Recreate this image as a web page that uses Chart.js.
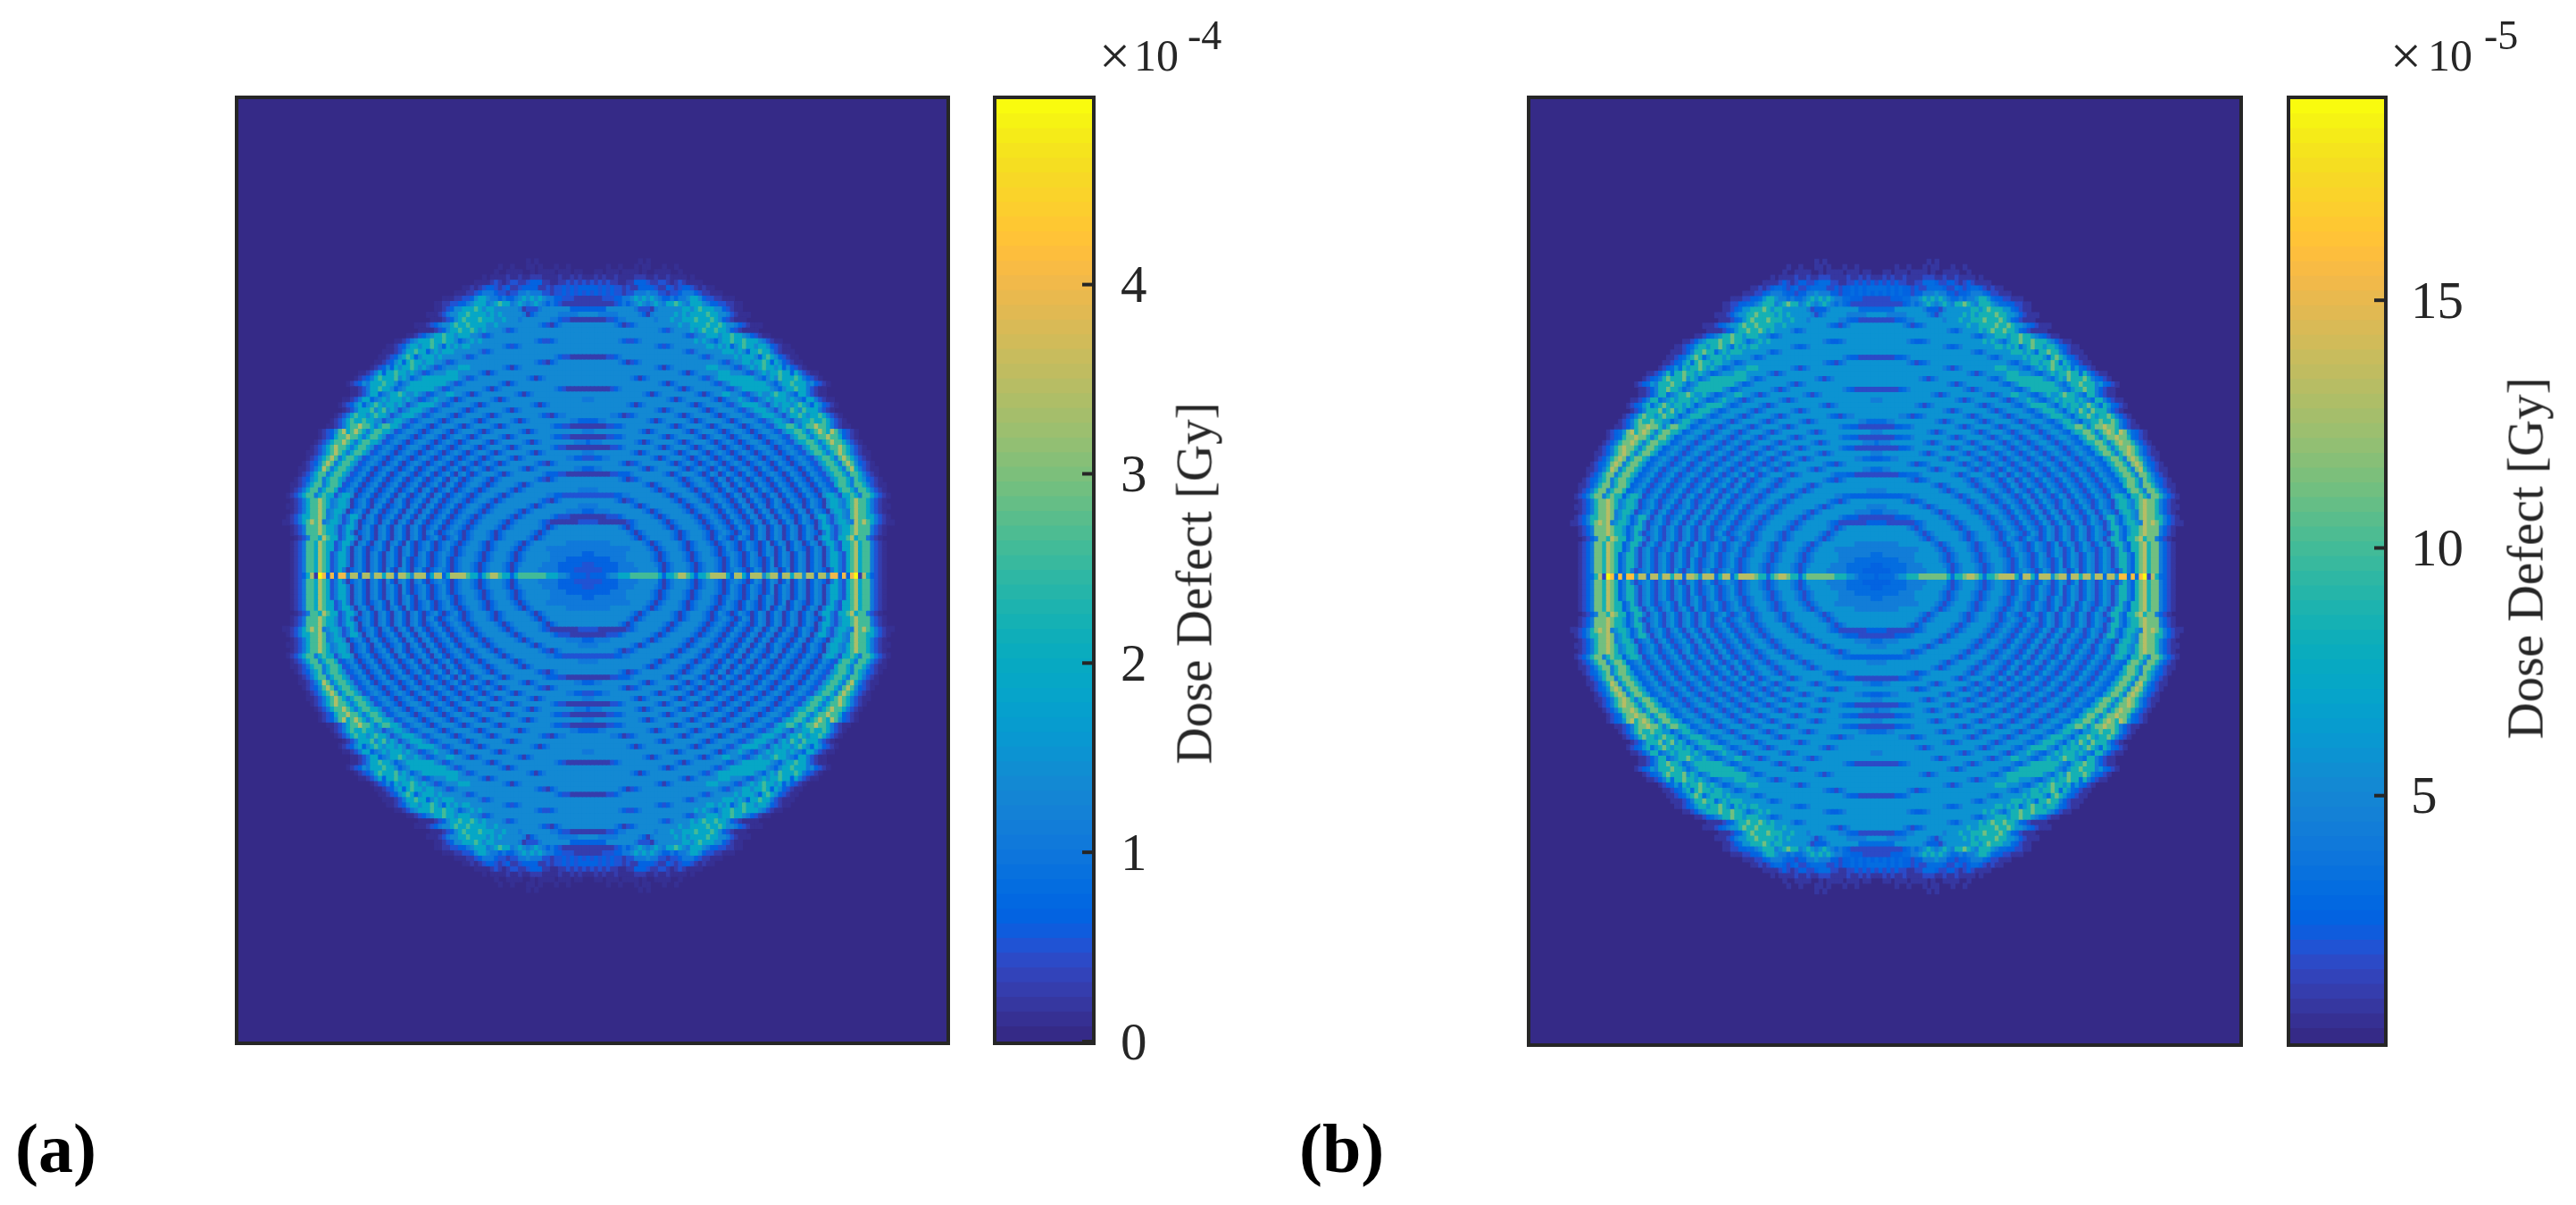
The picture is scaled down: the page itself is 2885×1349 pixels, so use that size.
<!DOCTYPE html>
<html>
<head>
<meta charset="utf-8">
<script src="https://cdn.jsdelivr.net/npm/chart.js@4/dist/chart.umd.min.js"></script>
<style>
	html, body { margin: 0; padding: 0; background: #fff; width: 2885px; height: 1349px; overflow: hidden; }
	canvas { position: absolute; display: block; }
	.map { border: 4px solid #262626; background: #352A87; }
	.txt { position: absolute; font-family: 'Liberation Serif', serif; color: #262626; line-height: 1; white-space: nowrap; }
	.rot { transform: translate(-50%, -50%) rotate(-90deg); font-size: 57px; }
	.tag { font-size: 78px; font-weight: bold; color: #000; }
</style>
</head>
<body>
<canvas id="mapA" class="map" style="left:263px;top:107px;box-sizing:content-box"></canvas>
<canvas id="barA" style="left:1110px;top:71px"></canvas>
<canvas id="mapB" class="map" style="left:1710px;top:107px;box-sizing:content-box"></canvas>
<canvas id="barB" style="left:2559px;top:71px"></canvas>

<div class="txt" style="left:1231px;top:31px;font-size:62px">×</div>
<div class="txt" style="left:1270px;top:37px;font-size:50px">10</div>
<div class="txt" style="left:1330px;top:17px;font-size:46px">-4</div>
<div class="txt rot" style="left:1337px;top:653px">Dose Defect [Gy]</div>
<div class="txt tag" style="left:17px;top:1247px">(a)</div>

<div class="txt" style="left:2677px;top:31px;font-size:62px">×</div>
<div class="txt" style="left:2719px;top:37px;font-size:50px">10</div>
<div class="txt" style="left:2782px;top:17px;font-size:46px">-5</div>
<div class="txt rot" style="left:2828px;top:625px">Dose Defect [Gy]</div>
<div class="txt tag" style="left:1455px;top:1247px">(b)</div>

<script>
// one string per image row above the centre row, each char a level code, from centre col outwards
const doseRows = [
	"34444 5667 77 8888888 7 4 77 8998 7 4 778 9999 7 4 99 7 4 999 6 8 99 4 99 7 99 6 99 4 99 6 aa 4 a 4 a b 2 9 7 4 3 2 1",
	"3333444455555666664 2 4566654 2 456654 2 45654 2 465 2 465 2 46 2 465 2 4654 2 575 3 7897885321",
	"33444444 5555 66666 54 2 4566654 2 456654 2 4654 2 4654 2 46 2 465 2 465 2 465 2 5775 3 7897885321",
	"444444 5555 666666 54 2 4566654 2 4566654 2 4654 2 4654 2 46 2 465 2 465 2 465 2 5775 3 7897885321",
	"4455 555555 666666 54 2 4566654 2 456654 2 45654 2 465 2 465 2 465 2 465 2 465 2 5775 3 7897885321",
	"55555 555555 6666 54 2 4566654 2 4566654 2 4654 2 4654 2 465 2 46 2 4654 2 465 2 575 3 77897885321",
	"555555 6666666 654 2 45666654 2 456654 2 45654 2 4654 2 46 2 465 2 465 2 465 2 5775 3 77897885321",
	"66666666666 54 2 456666654 2 4566654 2 4654 2 4654 2 465 2 465 2 465 2 465 2 5775 3 77897885321",
	"6666666666 54 2 4566666654 2 4566654 2 45654 2 465 2 465 2 465 2 465 2 4654 2 575 3 677898885321",
	"66666666 54 2 4566666654 2 45666654 2 45654 2 4654 2 465 2 465 2 465 2 465 2 5775 3 677898885321",
	"333 2222222 3456666654 2 45666654 2 45654 2 4654 2 465 2 465 2 465 2 4654 2 575 3 6776 5 9898753211",
	"22222 333 45 66666654 2 456666654 2 45654 2 4654 2 465 2 465 2 4654 2 465 2 5775 3 676 5 8988775321",
	"4455 5566 6666 6654 2 456666654 2 456654 2 4654 2 465 2 465 2 4654 2 465 2 4654 2 6776 5 898875321",
	"55566666 66654 2 45666666654 2 456654 2 4654 2 465 2 465 2 4654 2 465 2 4654 2 6776 5 78988753211",
	"6666666 54 2 3456666666654 2 456654 2 45654 2 465 2 4654 2 465 2 4654 2 4654 2 6776 5 7898875321",
	"3333333 44 556666666654 2 4566654 2 45654 2 465 2 4654 2 465 2 4654 2 4654 2 6776 3 7787 5 8875321",
	"555 66666666666 6654 2 45666654 2 45654 2 4654 2 465 2 4654 2 4654 2 4654 2 4654 3 7887 5 8875321",
	"66666666666666 54 2 45666654 2 456654 2 465 2 4654 2 4654 2 4654 2 4654 2 4654 3 7887 5 88753211",
	"66666666 54 2 3456666666654 2 456654 2 465 2 4654 2 4654 2 4654 2 4654 2 4654 3 67887 5 8764321",
	"222222 33 44 45666666654 2 4566654 2 465 2 4654 2 4654 2 45654 2 4654 2 4654 3 67887 5 8875321",
	"44 55 66666666 654 2 456666654 2 45654 2 4654 2 45654 2 4654 2 45654 2 4654 3 67887 5 89753211",
	"66666666 54 2 34566666654 2 45654 2 45654 2 45654 2 45654 2 4654 2 45654 3 67887 5 89864321",
	"3344 5566 6666666 654 2 4566654 2 45654 2 45654 2 45654 2 45654 2 45654 3 67887 5 89875321",
	"5566666666 654 2 456666654 2 456654 2 45654 2 45654 2 45654 2 45654 3 67887 5 7898753211",
	"222222 33 45666666654 2 4566654 2 456654 2 45654 2 456654 2 45654 3 67887 5 7889875321",
	"4555 6666666 654 2 456666654 2 4566654 2 45654 2 456654 2 45654 3 677887 5 7898875321",
	"222223 34 456666666654 2 45666654 2 456654 2 456654 2 456654 3 67887 5 78898874321",
	"55 6666666666 654 2 4566666654 2 4566654 2 456654 2 456654 3 677887 5 789879864321",
	"222223 34 45666666666654 2 45666654 2 4566654 2 456654 3 677887 5 788988753211",
	"444 55 6666 666666 54 2 456666654 2 45666654 2 4566654 3 567765 3 6677877875321",
	"666666 554 2 34566666666654 2 45666654 2 4566654 3 5677765 3 67787677875321",
	"6666666666666666 654 2 4566666654 2 45666654 3 5677765 3 67687687775321",
	"6666666666 54 2 45666666666654 2 45666654 3 56777765 3 6767767876 4 764321",
	"5566666666666666666 654 2 4566666654 2 45667654 3 56767776765 4 7753211",
	"6666666666666 654 2 456666666654 2 4566776654 3 56766787765 4 7753211",
	"222222 345 666666666666 654 2 45666666654 3 56777777765 4 67787753211",
	"66666666666666666 654 2 456666666654 3 5677777777765 4 6778777 5 64321",
	"6666666666 654 2 4566666666666654 3 5677777777765 4 676877787 5 4321",
	"6666666666666666666666 654 2 456666677766654 3 567677877 4 753211",
	"6666666666666666 654 2 456666666677766654 3 5676787767 4 64321",
	"6666666 654 2 345666666666666666666654 3 5667767787 4 7643211",
	"22222 33 45 666666666666666666 654 3 566666767776 4 787643211",
	"66666666666666666666666 654 3 5666666777676 4 77877532111",
	"6666666666666666 654 3 4566666666776767 4 67877677643211",
	"6666666 654 3 345666666666666676765 4 6778778777653211",
	"66666666666666666666666 654 3 5667776778776543211",
	"66666666666666666 654 3 5666676787787764321111",
	"666666 654 2 345666666666676677778778766543 2111",
	"22222 33 4 556666666566676677787778764321 11",
	"6665555566666 542 56666 676767 7778776 6532111",
	"4444 4 6666666 5 33 3 2 5666666 77678777 6643211",
	"2222222 345 4 5676 5676 5 77876 5 777654433 2211",
	"22223 33 44 55 6767676 5 44 5 4 55 6776 4 33 22 111",
	"4343 4 3 4 3 3 2 3 3 555 6 55 33 2 33 4 555 4 3 22 111",
	"44434 3 4 3 3 2 3 2 2 4444 3 22 4 3 2 3 44 3 2 1 2 11",
	"2323 2 3 2 2 1 1 2 2 444 3 22 33 2 1 2 3 2 1111",
	"112 1 2 1 1 2 1111 222 1 1 2 1 1 2 1111 0 1",
	"0011 0 111 0 1111 0 1 0 0 1111 0 0 1",
	"00000 1 0 0 1 000 1 0 11 000 1 0 0 1",
	"0000000000000 1 0 1"
];
const levelCodes = "0123456789ab";
const doseLevelsA = [0, 0.15, 0.28, 0.48, 0.66, 1.03, 1.34, 1.9, 2.6, 3.4, 4.03, 4.95];
const doseLevelsB = [0, 0.6, 1.5, 2.4, 3.0, 4.3, 5.8, 8.5, 11.2, 13.4, 15.8, 19.0];
const colorTicksA = [0, 1, 2, 3, 4];
const colorTicksB = [5, 10, 15];
const colorMaxA = 4.98;
const colorMaxB = 19.06;

const gridSize = 177;
const gridLabels = Array.from({ length: gridSize }, (_, i) => i);

const parula = [
	[.2081,.1663,.5292],[.2116,.1898,.5777],[.2123,.2138,.6270],[.2081,.2386,.6771],
	[.1959,.2645,.7279],[.1707,.2919,.7792],[.1253,.3242,.8303],[.0591,.3598,.8683],
	[.0117,.3875,.8820],[.0060,.4086,.8828],[.0165,.4266,.8786],[.0329,.4430,.8720],
	[.0498,.4586,.8641],[.0629,.4737,.8554],[.0723,.4887,.8467],[.0779,.5040,.8384],
	[.0793,.5200,.8312],[.0749,.5375,.8263],[.0641,.5570,.8240],[.0488,.5772,.8228],
	[.0343,.5966,.8199],[.0265,.6137,.8135],[.0239,.6287,.8038],[.0231,.6418,.7913],
	[.0228,.6535,.7768],[.0267,.6642,.7607],[.0384,.6743,.7436],[.0590,.6838,.7254],
	[.0843,.6928,.7062],[.1133,.7015,.6859],[.1453,.7098,.6646],[.1801,.7177,.6424],
	[.2178,.7250,.6193],[.2586,.7317,.5954],[.3022,.7376,.5712],[.3482,.7424,.5473],
	[.3953,.7459,.5244],[.4420,.7481,.5033],[.4871,.7491,.4840],[.5300,.7491,.4661],
	[.5709,.7485,.4494],[.6099,.7473,.4337],[.6473,.7456,.4188],[.6834,.7435,.4044],
	[.7184,.7411,.3905],[.7525,.7384,.3768],[.7858,.7356,.3633],[.8185,.7327,.3498],
	[.8507,.7299,.3360],[.8824,.7274,.3217],[.9139,.7258,.3063],[.9450,.7261,.2886],
	[.9739,.7314,.2666],[.9938,.7455,.2403],[.9990,.7653,.2164],[.9955,.7861,.1967],
	[.9880,.8066,.1794],[.9789,.8271,.1633],[.9697,.8481,.1475],[.9626,.8705,.1309],
	[.9589,.8949,.1132],[.9598,.9218,.0948],[.9661,.9514,.0755],[.9763,.9831,.0538]
].map(c => `rgb(${c.map(v => Math.round(v * 255)).join(',')})`);

const colorOf = (value, max) => parula[Math.min(63, Math.floor(value / max * 64))];

const rowDataset = (rowIndex, cells, levels, max, centerCol) => {
	const data = new Array(gridSize).fill(null);
	const colors = new Array(gridSize).fill('rgba(0,0,0,0)');
	cells.forEach((ch, d) => {
		const code = levelCodes.indexOf(ch);
		if (code <= 0) return;
		for (const col of [centerCol - d, centerCol + d]) {
			if (col < 0 || col >= gridSize) continue;
			data[col] = [rowIndex, rowIndex + 1];
			colors[col] = colorOf(levels[code], max);
		}
	});
	return { data, backgroundColor: colors, barPercentage: 1, categoryPercentage: 1, grouped: false, inflateAmount: 0.5 };
};

const drawMap = (id, width, height, levels, max, centerCol, centerRow) => {
	const canvas = document.getElementById(id);
	canvas.width = width;
	canvas.height = height;
	canvas.style.width = width + 'px';
	canvas.style.height = height + 'px';
	const datasets = [];
	doseRows.forEach((row, j) => {
		const cells = row.replace(/ /g, '').split('');
		datasets.push(rowDataset(centerRow - j, cells, levels, max, centerCol));
		if (j > 0) datasets.push(rowDataset(centerRow + j, cells, levels, max, centerCol));
	});
	return new Chart(canvas, {
		type: 'bar',
		data: { labels: gridLabels, datasets },
		options: {
			responsive: false,
			animation: false,
			events: [],
			layout: { padding: 0 },
			plugins: { legend: { display: false }, tooltip: { enabled: false } },
			scales: {
				x: { display: false, offset: true },
				y: { display: false, reverse: true, min: 0, max: gridSize }
			}
		}
	});
};

const colorFrame = {
	id: 'colorFrame',
	afterDraw(chart, args, opts) {
		const { ctx, chartArea: a, scales } = chart;
		ctx.save();
		ctx.strokeStyle = '#262626';
		ctx.lineWidth = 4;
		ctx.strokeRect(a.left - 2, a.top - 2, a.right - a.left + 4, a.bottom - a.top + 4);
		opts.ticks.forEach(v => {
			const y = scales.y.getPixelForValue(v);
			ctx.beginPath();
			ctx.moveTo(a.right - 11, y);
			ctx.lineTo(a.right, y);
			ctx.stroke();
		});
		ctx.restore();
	}
};

const drawColorBar = (id, barWidth, plotHeight, max, ticks, labelPad) => {
	const canvas = document.getElementById(id);
	const width = 300, height = plotHeight + 80;
	canvas.width = width;
	canvas.height = height;
	canvas.style.width = width + 'px';
	canvas.style.height = height + 'px';
	const datasets = parula.map((color, i) => ({
		data: [[i / 64 * max, (i + 1) / 64 * max]],
		backgroundColor: color,
		barPercentage: 1,
		categoryPercentage: 1,
		grouped: false,
		inflateAmount: 0.5
	}));
	return new Chart(canvas, {
		type: 'bar',
		data: { labels: ['dose'], datasets },
		options: {
			responsive: false,
			animation: false,
			events: [],
			layout: { padding: { left: 6, right: 0, top: 40, bottom: 40 } },
			plugins: { legend: { display: false }, tooltip: { enabled: false }, colorFrame: { ticks } },
			scales: {
				x: { display: false, offset: true },
				y: {
					position: 'right',
					min: 0,
					max,
					afterBuildTicks: s => { s.ticks = ticks.map(value => ({ value })); },
					afterFit: s => {
						s.width = width - 6 - barWidth;
						s.paddingTop = 0;
						s.paddingBottom = 0;
					},
					grid: { display: false },
					border: { display: false },
					ticks: {
						padding: labelPad,
						labelOffset: 4,
						color: '#262626',
						font: { family: "'Liberation Serif', serif", size: 59 }
					}
				}
			}
		},
		plugins: [colorFrame]
	});
};

//#region main
drawMap('mapA', 793, 1055, doseLevelsA, colorMaxA, 87, 89);
drawColorBar('barA', 107, 1055, colorMaxA, colorTicksA, 24);
drawMap('mapB', 794, 1057, doseLevelsB, colorMaxB, 86, 89);
drawColorBar('barB', 105, 1057, colorMaxB, colorTicksB, 22);
//#endregion main
</script>
</body>
</html>
